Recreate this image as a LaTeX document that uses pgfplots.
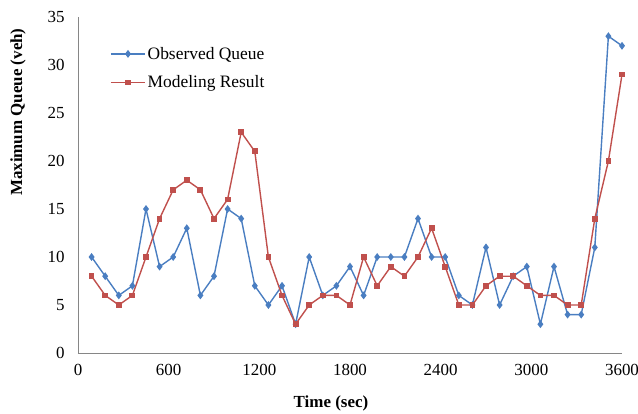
\documentclass[border=0pt]{standalone}
\usepackage{fontspec}
\setmainfont{Liberation Serif}
\usepackage{pgfplots}
\pgfplotsset{compat=1.18}
\definecolor{obsblue}{RGB}{74,126,193}
\definecolor{modred}{RGB}{192,80,77}
\definecolor{axgray}{RGB}{134,134,134}

\begin{document}
\begin{tikzpicture}
\begin{axis}[
  name=ax,
  scale only axis, width=544bp, height=336bp,
  xmin=0, xmax=3600, ymin=0, ymax=35,
  xtick={0,600,...,3600}, ytick={0,5,...,35},
  axis x line=bottom, axis y line=left,
  axis line style={axgray, line width=0.9pt, -},
  major tick length=0pt,
  tick label style={font=\fontsize{17}{19}\selectfont},
  /pgf/number format/assume math mode=true,
  /pgf/number format/1000 sep={},
  xticklabel style={yshift=-8bp},
  yticklabel style={xshift=-10bp},
  xlabel={\textbf{Time (sec)}},
  ylabel={\textbf{Maximum Queue (veh)}},
  label style={font=\fontsize{17}{19}\selectfont},
  xlabel style={at={(axis description cs:0.465,-0.149)}, anchor=center},
  ylabel style={at={(axis description cs:-0.110,0.717)}, anchor=center},
  legend style={at={(axis description cs:0.059,0.917)}, anchor=north west,
    draw=none, fill=none, inner sep=0pt, row sep=11bp,
    font=\fontsize{17.5}{20}\selectfont},
  legend cell align=left,
  legend image code/.code={\draw[mark repeat=2,mark phase=2] plot coordinates {(0bp,0bp)(17bp,0bp)(34bp,0bp)};},
]
\addplot[obsblue, line width=1.4bp, mark=diamond*, mark size=2.8bp, mark options={solid}] coordinates {
(90,10)(180,8)(270,6)(360,7)(450,15)(540,9)(630,10)(720,13)(810,6)(900,8)
(990,15)(1080,14)(1170,7)(1260,5)(1350,7)(1440,3)(1530,10)(1620,6)(1710,7)(1800,9)
(1890,6)(1980,10)(2070,10)(2160,10)(2250,14)(2340,10)(2430,10)(2520,6)(2610,5)(2700,11)
(2790,5)(2880,8)(2970,9)(3060,3)(3150,9)(3240,4)(3330,4)(3420,11)(3510,33)(3600,32)};
\addlegendentry{Observed Queue}
\addplot[modred, line width=1.4bp, mark=square*, mark size=2.2bp, mark options={solid}] coordinates {
(90,8)(180,6)(270,5)(360,6)(450,10)(540,14)(630,17)(720,18)(810,17)(900,14)
(990,16)(1080,23)(1170,21)(1260,10)(1350,6)(1440,3)(1530,5)(1620,6)(1710,6)(1800,5)
(1890,10)(1980,7)(2070,9)(2160,8)(2250,10)(2340,13)(2430,9)(2520,5)(2610,5)(2700,7)
(2790,8)(2880,8)(2970,7)(3060,6)(3150,6)(3240,5)(3330,5)(3420,14)(3510,20)(3600,29)};
\addlegendentry{Modeling Result}
\end{axis}
\pgfresetboundingbox
\path ([shift={(-78bp,-61bp)}]ax.south west) rectangle ([shift={(16bp,17bp)}]ax.north east);
\end{tikzpicture}
\end{document}
